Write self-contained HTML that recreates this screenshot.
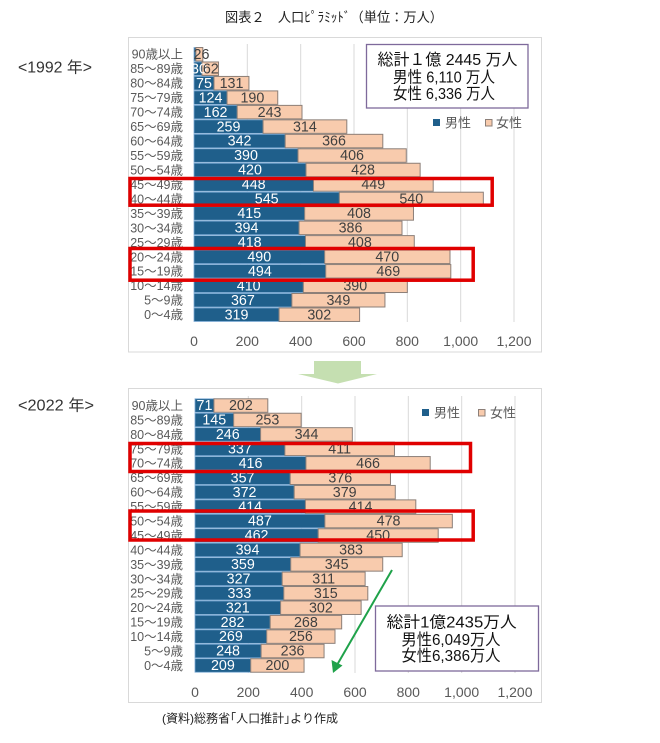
<!DOCTYPE html>
<html><head><meta charset="utf-8"><style>
html,body{margin:0;padding:0;background:#fff}
svg{display:block}
text{font-family:"Liberation Sans","Noto Sans CJK JP",sans-serif}
.lab{font-size:12.5px;fill:#595959;text-anchor:end}
.ax{font-size:14px;fill:#595959;text-anchor:middle}
.tm{font-size:14.3px;fill:#fff;text-anchor:middle}
.tf{font-size:14.3px;fill:#404040;text-anchor:middle}
.m{fill:#1f5f8b;stroke:#7aa9d4;stroke-width:.8}
.f{fill:#f8cbad;stroke:#8c7f78;stroke-width:1}
.g{stroke:#d9d9d9;stroke-width:1}
.red{fill:none;stroke:#e00000;stroke-width:3.5}
.box{fill:#fff;stroke:#7e6a9b;stroke-width:1.3}
.bt{font-size:16px;fill:#111;text-anchor:middle}
.leg{font-size:13px;fill:#595959}
</style></head><body>
<svg width="660" height="743" viewBox="0 0 660 743" xmlns="http://www.w3.org/2000/svg">
<rect width="660" height="743" fill="#fff"/>
<text x="334" y="22" font-size="13.5" fill="#222" text-anchor="middle" textLength="218" lengthAdjust="spacingAndGlyphs">図表２　人口ﾋﾟﾗﾐｯﾄﾞ（単位：万人）</text>
<text x="18" y="72.5" font-size="15.5" fill="#333" textLength="74" lengthAdjust="spacingAndGlyphs">&lt;1992 年&gt;</text>
<text x="18" y="410.5" font-size="15.5" fill="#333" textLength="76" lengthAdjust="spacingAndGlyphs">&lt;2022 年&gt;</text>

<!-- TOP CHART -->
<rect x="128.5" y="37.5" width="413" height="314.5" fill="#fff" stroke="#d9d9d9"/>
<g class="g">
<line x1="247.3" y1="44" x2="247.3" y2="322"/><line x1="300.7" y1="44" x2="300.7" y2="322"/><line x1="354" y1="44" x2="354" y2="322"/><line x1="407.3" y1="44" x2="407.3" y2="322"/><line x1="460.7" y1="44" x2="460.7" y2="322"/><line x1="514" y1="44" x2="514" y2="322"/>
</g>
<g class="ax">
<text x="194" y="346">0</text><text x="247.3" y="346">200</text><text x="300.7" y="346">400</text><text x="354" y="346">600</text><text x="407.3" y="346">800</text><text x="460.7" y="346">1,000</text><text x="514" y="346">1,200</text>
</g>
<g transform="translate(194,47)">
<g transform="translate(0,0)"><rect class="m" y="0.5" height="13.5" width="1.87"/><rect class="f" x="1.87" y="0.5" height="13.5" width="6.93"/><text class="tf" x="7.5" y="11.9">26</text><text class="lab" x="-11" y="11.7">90歳以上</text></g>
<g transform="translate(0,14.47)"><rect class="m" y="0.5" height="13.5" width="8"/><rect class="f" x="8" y="0.5" height="13.5" width="16.53"/><text class="tm" x="5" y="11.9">30</text><text class="tf" x="16.8" y="11.9">62</text><text class="lab" x="-11" y="11.7">85～89歳</text></g>
<g transform="translate(0,28.94)"><rect class="m" y="0.5" height="13.5" width="20"/><rect class="f" x="20" y="0.5" height="13.5" width="34.93"/><text class="tm" x="10" y="11.9">75</text><text class="tf" x="37.5" y="11.9">131</text><text class="lab" x="-11" y="11.7">80～84歳</text></g>
<g transform="translate(0,43.41)"><rect class="m" y="0.5" height="13.5" width="33.07"/><rect class="f" x="33.07" y="0.5" height="13.5" width="50.67"/><text class="tm" x="16.5" y="11.9">124</text><text class="tf" x="58.4" y="11.9">190</text><text class="lab" x="-11" y="11.7">75～79歳</text></g>
<g transform="translate(0,57.88)"><rect class="m" y="0.5" height="13.5" width="43.2"/><rect class="f" x="43.2" y="0.5" height="13.5" width="64.8"/><text class="tm" x="21.6" y="11.9">162</text><text class="tf" x="75.6" y="11.9">243</text><text class="lab" x="-11" y="11.7">70～74歳</text></g>
<g transform="translate(0,72.35)"><rect class="m" y="0.5" height="13.5" width="69.07"/><rect class="f" x="69.07" y="0.5" height="13.5" width="83.73"/><text class="tm" x="34.5" y="11.9">259</text><text class="tf" x="110.9" y="11.9">314</text><text class="lab" x="-11" y="11.7">65～69歳</text></g>
<g transform="translate(0,86.82)"><rect class="m" y="0.5" height="13.5" width="91.2"/><rect class="f" x="91.2" y="0.5" height="13.5" width="97.6"/><text class="tm" x="45.6" y="11.9">342</text><text class="tf" x="140" y="11.9">366</text><text class="lab" x="-11" y="11.7">60～64歳</text></g>
<g transform="translate(0,101.29)"><rect class="m" y="0.5" height="13.5" width="104"/><rect class="f" x="104" y="0.5" height="13.5" width="108.27"/><text class="tm" x="52" y="11.9">390</text><text class="tf" x="158.1" y="11.9">406</text><text class="lab" x="-11" y="11.7">55～59歳</text></g>
<g transform="translate(0,115.76)"><rect class="m" y="0.5" height="13.5" width="112"/><rect class="f" x="112" y="0.5" height="13.5" width="114.13"/><text class="tm" x="56" y="11.9">420</text><text class="tf" x="169.1" y="11.9">428</text><text class="lab" x="-11" y="11.7">50～54歳</text></g>
<g transform="translate(0,130.23)"><rect class="m" y="0.5" height="13.5" width="119.47"/><rect class="f" x="119.47" y="0.5" height="13.5" width="119.73"/><text class="tm" x="59.7" y="11.9">448</text><text class="tf" x="179.3" y="11.9">449</text><text class="lab" x="-11" y="11.7">45～49歳</text></g>
<g transform="translate(0,144.7)"><rect class="m" y="0.5" height="13.5" width="145.33"/><rect class="f" x="145.33" y="0.5" height="13.5" width="144"/><text class="tm" x="72.7" y="11.9">545</text><text class="tf" x="217.3" y="11.9">540</text><text class="lab" x="-11" y="11.7">40～44歳</text></g>
<g transform="translate(0,159.17)"><rect class="m" y="0.5" height="13.5" width="110.67"/><rect class="f" x="110.67" y="0.5" height="13.5" width="108.8"/><text class="tm" x="55.3" y="11.9">415</text><text class="tf" x="165.1" y="11.9">408</text><text class="lab" x="-11" y="11.7">35～39歳</text></g>
<g transform="translate(0,173.64)"><rect class="m" y="0.5" height="13.5" width="105.07"/><rect class="f" x="105.07" y="0.5" height="13.5" width="102.93"/><text class="tm" x="52.5" y="11.9">394</text><text class="tf" x="156.5" y="11.9">386</text><text class="lab" x="-11" y="11.7">30～34歳</text></g>
<g transform="translate(0,188.11)"><rect class="m" y="0.5" height="13.5" width="111.47"/><rect class="f" x="111.47" y="0.5" height="13.5" width="108.8"/><text class="tm" x="55.7" y="11.9">418</text><text class="tf" x="165.9" y="11.9">408</text><text class="lab" x="-11" y="11.7">25～29歳</text></g>
<g transform="translate(0,202.58)"><rect class="m" y="0.5" height="13.5" width="130.67"/><rect class="f" x="130.67" y="0.5" height="13.5" width="125.33"/><text class="tm" x="65.3" y="11.9">490</text><text class="tf" x="193.3" y="11.9">470</text><text class="lab" x="-11" y="11.7">20～24歳</text></g>
<g transform="translate(0,217.05)"><rect class="m" y="0.5" height="13.5" width="131.73"/><rect class="f" x="131.73" y="0.5" height="13.5" width="125.07"/><text class="tm" x="65.9" y="11.9">494</text><text class="tf" x="194.3" y="11.9">469</text><text class="lab" x="-11" y="11.7">15～19歳</text></g>
<g transform="translate(0,231.52)"><rect class="m" y="0.5" height="13.5" width="109.33"/><rect class="f" x="109.33" y="0.5" height="13.5" width="104"/><text class="tm" x="54.7" y="11.9">410</text><text class="tf" x="161.3" y="11.9">390</text><text class="lab" x="-11" y="11.7">10～14歳</text></g>
<g transform="translate(0,245.99)"><rect class="m" y="0.5" height="13.5" width="97.87"/><rect class="f" x="97.87" y="0.5" height="13.5" width="93.07"/><text class="tm" x="48.9" y="11.9">367</text><text class="tf" x="144.4" y="11.9">349</text><text class="lab" x="-11" y="11.7">5～9歳</text></g>
<g transform="translate(0,260.46)"><rect class="m" y="0.5" height="13.5" width="85.07"/><rect class="f" x="85.07" y="0.5" height="13.5" width="80.53"/><text class="tm" x="42.5" y="11.9">319</text><text class="tf" x="125.3" y="11.9">302</text><text class="lab" x="-11" y="11.7">0～4歳</text></g>
</g>
<rect class="red" x="130" y="178.5" width="362.2" height="26.7"/>
<rect class="red" x="130" y="248.5" width="343.2" height="31.7"/>
<rect class="box" x="366.5" y="44.5" width="161.5" height="63.5"/>
<text class="bt" x="447.5" y="65" textLength="140" lengthAdjust="spacingAndGlyphs">総計１億 2445 万人</text>
<text class="bt" x="444" y="82.5" textLength="102" lengthAdjust="spacingAndGlyphs">男性 6,110 万人</text>
<text class="bt" x="444" y="99" textLength="102" lengthAdjust="spacingAndGlyphs">女性 6,336 万人</text>
<rect x="433" y="119" width="7" height="7" fill="#1f5f8b"/><text class="leg" x="445" y="127.5">男性</text>
<rect x="485.5" y="119.5" width="6.5" height="6.5" fill="#f8cbad" stroke="#8c7f78"/><text class="leg" x="496" y="127.5">女性</text>

<!-- transition arrow -->
<polygon points="314,361 361,361 361,374 377,374 338,383.5 298,374 314,374" fill="#c5dfb1"/>

<!-- BOTTOM CHART -->
<rect x="128.5" y="388.5" width="413" height="314" fill="#fff" stroke="#d9d9d9"/>
<g class="g">
<line x1="248.3" y1="396" x2="248.3" y2="673"/><line x1="301.7" y1="396" x2="301.7" y2="673"/><line x1="355" y1="396" x2="355" y2="673"/><line x1="408.3" y1="396" x2="408.3" y2="673"/><line x1="461.7" y1="396" x2="461.7" y2="673"/><line x1="515" y1="396" x2="515" y2="673"/>
</g>
<g class="ax">
<text x="195" y="697">0</text><text x="248.3" y="697">200</text><text x="301.7" y="697">400</text><text x="355" y="697">600</text><text x="408.3" y="697">800</text><text x="461.7" y="697">1,000</text><text x="515" y="697">1,200</text>
</g>
<g transform="translate(195,398.3)">
<g transform="translate(0,0)"><rect class="m" y="0.5" height="13.5" width="18.93"/><rect class="f" x="18.93" y="0.5" height="13.5" width="53.87"/><text class="tm" x="9.5" y="11.9">71</text><text class="tf" x="45.9" y="11.9">202</text><text class="lab" x="-12" y="11.7">90歳以上</text></g>
<g transform="translate(0,14.44)"><rect class="m" y="0.5" height="13.5" width="38.67"/><rect class="f" x="38.67" y="0.5" height="13.5" width="67.47"/><text class="tm" x="19.3" y="11.9">145</text><text class="tf" x="72.4" y="11.9">253</text><text class="lab" x="-12" y="11.7">85～89歳</text></g>
<g transform="translate(0,28.88)"><rect class="m" y="0.5" height="13.5" width="65.6"/><rect class="f" x="65.6" y="0.5" height="13.5" width="91.73"/><text class="tm" x="32.8" y="11.9">246</text><text class="tf" x="111.5" y="11.9">344</text><text class="lab" x="-12" y="11.7">80～84歳</text></g>
<g transform="translate(0,43.32)"><rect class="m" y="0.5" height="13.5" width="89.87"/><rect class="f" x="89.87" y="0.5" height="13.5" width="109.6"/><text class="tm" x="44.9" y="11.9">337</text><text class="tf" x="144.7" y="11.9">411</text><text class="lab" x="-12" y="11.7">75～79歳</text></g>
<g transform="translate(0,57.76)"><rect class="m" y="0.5" height="13.5" width="110.93"/><rect class="f" x="110.93" y="0.5" height="13.5" width="124.27"/><text class="tm" x="55.5" y="11.9">416</text><text class="tf" x="173.1" y="11.9">466</text><text class="lab" x="-12" y="11.7">70～74歳</text></g>
<g transform="translate(0,72.2)"><rect class="m" y="0.5" height="13.5" width="95.2"/><rect class="f" x="95.2" y="0.5" height="13.5" width="100.27"/><text class="tm" x="47.6" y="11.9">357</text><text class="tf" x="145.3" y="11.9">376</text><text class="lab" x="-12" y="11.7">65～69歳</text></g>
<g transform="translate(0,86.64)"><rect class="m" y="0.5" height="13.5" width="99.2"/><rect class="f" x="99.2" y="0.5" height="13.5" width="101.07"/><text class="tm" x="49.6" y="11.9">372</text><text class="tf" x="149.7" y="11.9">379</text><text class="lab" x="-12" y="11.7">60～64歳</text></g>
<g transform="translate(0,101.08)"><rect class="m" y="0.5" height="13.5" width="110.4"/><rect class="f" x="110.4" y="0.5" height="13.5" width="110.4"/><text class="tm" x="55.2" y="11.9">414</text><text class="tf" x="165.6" y="11.9">414</text><text class="lab" x="-12" y="11.7">55～59歳</text></g>
<g transform="translate(0,115.52)"><rect class="m" y="0.5" height="13.5" width="129.87"/><rect class="f" x="129.87" y="0.5" height="13.5" width="127.47"/><text class="tm" x="64.9" y="11.9">487</text><text class="tf" x="193.6" y="11.9">478</text><text class="lab" x="-12" y="11.7">50～54歳</text></g>
<g transform="translate(0,129.96)"><rect class="m" y="0.5" height="13.5" width="123.2"/><rect class="f" x="123.2" y="0.5" height="13.5" width="120"/><text class="tm" x="61.6" y="11.9">462</text><text class="tf" x="183.2" y="11.9">450</text><text class="lab" x="-12" y="11.7">45～49歳</text></g>
<g transform="translate(0,144.4)"><rect class="m" y="0.5" height="13.5" width="105.07"/><rect class="f" x="105.07" y="0.5" height="13.5" width="102.13"/><text class="tm" x="52.5" y="11.9">394</text><text class="tf" x="156.1" y="11.9">383</text><text class="lab" x="-12" y="11.7">40～44歳</text></g>
<g transform="translate(0,158.84)"><rect class="m" y="0.5" height="13.5" width="95.73"/><rect class="f" x="95.73" y="0.5" height="13.5" width="92"/><text class="tm" x="47.9" y="11.9">359</text><text class="tf" x="141.7" y="11.9">345</text><text class="lab" x="-12" y="11.7">35～39歳</text></g>
<g transform="translate(0,173.28)"><rect class="m" y="0.5" height="13.5" width="87.2"/><rect class="f" x="87.2" y="0.5" height="13.5" width="82.93"/><text class="tm" x="43.6" y="11.9">327</text><text class="tf" x="128.7" y="11.9">311</text><text class="lab" x="-12" y="11.7">30～34歳</text></g>
<g transform="translate(0,187.72)"><rect class="m" y="0.5" height="13.5" width="88.8"/><rect class="f" x="88.8" y="0.5" height="13.5" width="84"/><text class="tm" x="44.4" y="11.9">333</text><text class="tf" x="130.8" y="11.9">315</text><text class="lab" x="-12" y="11.7">25～29歳</text></g>
<g transform="translate(0,202.16)"><rect class="m" y="0.5" height="13.5" width="85.6"/><rect class="f" x="85.6" y="0.5" height="13.5" width="80.53"/><text class="tm" x="42.8" y="11.9">321</text><text class="tf" x="125.9" y="11.9">302</text><text class="lab" x="-12" y="11.7">20～24歳</text></g>
<g transform="translate(0,216.6)"><rect class="m" y="0.5" height="13.5" width="75.2"/><rect class="f" x="75.2" y="0.5" height="13.5" width="71.47"/><text class="tm" x="37.6" y="11.9">282</text><text class="tf" x="110.9" y="11.9">268</text><text class="lab" x="-12" y="11.7">15～19歳</text></g>
<g transform="translate(0,231.04)"><rect class="m" y="0.5" height="13.5" width="71.73"/><rect class="f" x="71.73" y="0.5" height="13.5" width="68.27"/><text class="tm" x="35.9" y="11.9">269</text><text class="tf" x="105.9" y="11.9">256</text><text class="lab" x="-12" y="11.7">10～14歳</text></g>
<g transform="translate(0,245.48)"><rect class="m" y="0.5" height="13.5" width="66.13"/><rect class="f" x="66.13" y="0.5" height="13.5" width="62.93"/><text class="tm" x="33.1" y="11.9">248</text><text class="tf" x="97.6" y="11.9">236</text><text class="lab" x="-12" y="11.7">5～9歳</text></g>
<g transform="translate(0,259.92)"><rect class="m" y="0.5" height="13.5" width="55.73"/><rect class="f" x="55.73" y="0.5" height="13.5" width="53.33"/><text class="tm" x="27.9" y="11.9">209</text><text class="tf" x="82.4" y="11.9">200</text><text class="lab" x="-12" y="11.7">0～4歳</text></g>
</g>
<rect class="red" x="130" y="443.5" width="340.5" height="28"/>
<rect class="red" x="130" y="511" width="343.2" height="29"/>
<rect x="422" y="409" width="7" height="7" fill="#1f5f8b"/><text class="leg" x="434" y="417.5">男性</text>
<rect x="478.5" y="409.5" width="6.5" height="6.5" fill="#f8cbad" stroke="#8c7f78"/><text class="leg" x="490" y="417.5">女性</text>
<rect class="box" x="375.5" y="606" width="163" height="65"/>
<text class="bt" x="451.7" y="627.5" textLength="130" lengthAdjust="spacingAndGlyphs">総計1億2435万人</text>
<text class="bt" x="451" y="645" textLength="99" lengthAdjust="spacingAndGlyphs">男性6,049万人</text>
<text class="bt" x="451" y="661" textLength="99" lengthAdjust="spacingAndGlyphs">女性6,386万人</text>
<!-- green arrow -->
<line x1="392" y1="570" x2="337" y2="665" stroke="#1fa24a" stroke-width="2"/>
<polygon points="333,673 331.5,660 342.5,665.5" fill="#1fa24a"/>
<text x="162" y="722.5" font-size="12" fill="#222" textLength="176" lengthAdjust="spacingAndGlyphs">(資料)総務省｢人口推計｣より作成</text>
</svg>
</body></html>
